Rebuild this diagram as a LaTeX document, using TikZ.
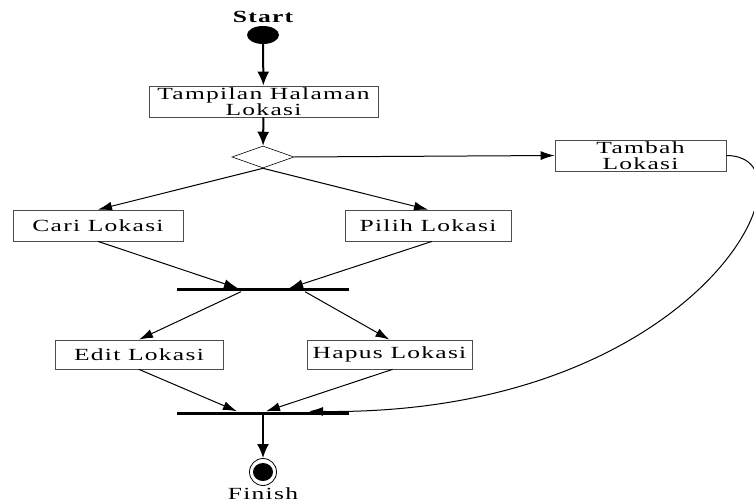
\documentclass[tikz,border=0pt]{standalone}
\usepackage{fontspec}
\setmainfont{Liberation Serif}[LetterSpace=5]
\usetikzlibrary{shapes.geometric,arrows.meta}
\newcommand{\wide}[1]{\scalebox{1.5}[1]{#1}}
\begin{document}
\begin{tikzpicture}[x=1pt,y=-1pt,
  font=\fontsize{17}{15.5}\selectfont,
  act/.style={draw=black!70, line width=0.8pt, fill=white, inner sep=0pt, align=center},
  bar/.style={fill=black, inner sep=0pt, minimum width=172pt, minimum height=3pt},
  flow/.style={line width=1pt, -{Latex[length=14pt,width=9pt]}},
  mainflow/.style={line width=2pt, -{Latex[length=14pt,width=12pt]}},
  lbl/.style={inner sep=0pt}]
\useasboundingbox (0,0) rectangle (754,502);

% start and end states
\node[lbl, font=\fontsize{17}{15.5}\selectfont\bfseries] (startlbl) at (263,17) {\wide{Start}};
\node[ellipse, fill=black, minimum width=32pt, minimum height=18pt, inner sep=0pt] (start) at (263,35) {};
\node[circle, draw=black, line width=0.8pt, minimum size=27pt, inner sep=0pt] (finish) at (263,472) {};
\node[ellipse, fill=black, minimum width=20pt, minimum height=18pt, inner sep=0pt] (finishdot) at (263,472) {};
\node[lbl, anchor=base] (finishlbl) at (263,499) {\wide{Finish}};

% activities
\node[act, minimum width=229pt, minimum height=31pt] (tampil) at (263.5,101.5)
  {\wide{Tampilan Halaman}\\\wide{Lokasi}};
\node[diamond, draw=black, line width=0.6pt, minimum width=62pt, minimum height=22pt, inner sep=0pt, aspect=2.8] (dec) at (263,157) {};
\node[act, minimum width=171pt, minimum height=31pt] (tambah) at (640.5,155.5)
  {\wide{Tambah}\\\wide{Lokasi}};
\node[act, minimum width=170pt, minimum height=31pt] (cari) at (98,225.5) {\wide{Cari Lokasi}};
\node[act, minimum width=166pt, minimum height=31pt] (pilih) at (428,225.5) {\wide{Pilih Lokasi}};
\node[bar] (fork) at (263,290) {};
\node[act, minimum width=168pt, minimum height=29pt] (edit) at (139,354.5) {\wide{Edit Lokasi}};
\node[act, minimum width=165pt, minimum height=29pt] (hapus) at (389.5,354.5) {\wide{Hapus Lokasi}};
\node[bar] (join) at (263,413) {};

% connectors
\draw[mainflow] (start) -- (tampil);
\draw[mainflow] (tampil) -- (dec);
\draw[flow] (dec.east) -- (tambah.west);
\draw[flow] (dec.south) -- (cari.north);
\draw[flow] (dec.south) -- (pilih.north);
\draw[flow] (cari.south) -- ([xshift=-25pt]fork.north);
\draw[flow] ([xshift=4pt]pilih.south) -- ([xshift=26pt]fork.north);
\draw[flow] ([xshift=-22pt]fork.south) -- (edit.north);
\draw[flow] ([xshift=42pt]fork.south) -- (hapus.north);
\draw[flow] (edit.south) -- ([xshift=-26pt]join.north);
\draw[flow] ([xshift=3pt]hapus.south) -- ([xshift=3pt]join.north);
\draw[flow] (tambah.east) .. controls (825,156) and (700,416) .. ([xshift=46pt]join.north);
\draw[mainflow] (join.south) -- (finish.north);
\end{tikzpicture}
\end{document}
